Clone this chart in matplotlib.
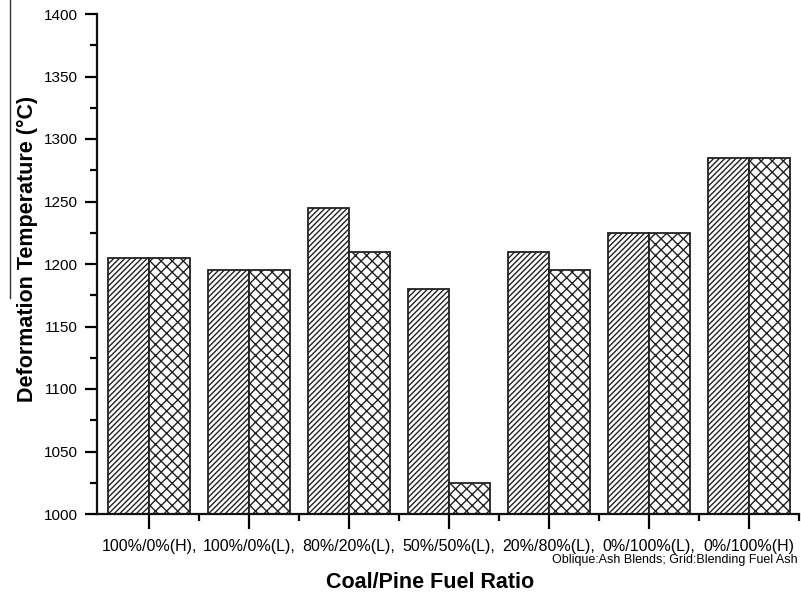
import matplotlib
matplotlib.use("Agg")
import matplotlib.pyplot as plt
from matplotlib.lines import Line2D
from matplotlib.ticker import MultipleLocator, FixedLocator
import numpy as np

plt.rcParams['font.family'] = ['Liberation Sans', 'DejaVu Sans']
plt.rcParams['hatch.linewidth'] = 1.0
plt.rcParams['hatch.color'] = '#555555'

categories = ["100%/0%(H),", "100%/0%(L),", "80%/20%(L),", "50%/50%(L),",
              "20%/80%(L),", "0%/100%(L),", "0%/100%(H)"]
ash_blends = [1205, 1195, 1245, 1180, 1210, 1225, 1285]
blending_fuel_ash = [1205, 1195, 1210, 1025, 1195, 1225, 1285]

fig = plt.figure(figsize=(8.01, 5.95), dpi=100)
ax = fig.add_axes([97 / 801, 1 - 514 / 595, 702 / 801, 500 / 595])

x = np.arange(1, len(categories) + 1)
w = 0.41
base = 1000
ax.bar(x - w / 2, np.array(ash_blends) - base, width=w, bottom=base,
       color='white', edgecolor='#222222', linewidth=1.3, hatch='//////')
ax.bar(x + w / 2, np.array(blending_fuel_ash) - base, width=w, bottom=base,
       color='white', edgecolor='#222222', linewidth=1.3, hatch='xxx')

ax.set_xlim(0.48, 7.5)
ax.set_ylim(1000, 1400)
ax.yaxis.set_major_locator(MultipleLocator(50))
ax.yaxis.set_minor_locator(MultipleLocator(25))
ax.set_xticks(x)
ax.set_xticklabels(categories, fontsize=11.5)
ax.xaxis.set_minor_locator(FixedLocator(np.arange(1.5, 7.6, 1.0)))
ax.tick_params(axis='y', labelsize=11)

for s in ['top', 'right']:
    ax.spines[s].set_visible(False)
for s in ['left', 'bottom']:
    ax.spines[s].set_linewidth(1.6)
    ax.spines[s].set_color('#111111')

ax.tick_params(axis='y', which='major', direction='out', length=9, width=1.6, pad=5)
ax.tick_params(axis='y', which='minor', direction='out', length=5, width=1.6)
ax.tick_params(axis='x', which='major', direction='out', length=11, width=1.6, pad=7)
ax.tick_params(axis='x', which='minor', direction='out', length=5, width=1.6)

fig.text(27 / 801, 1 - 249 / 595, "Deformation Temperature (\u00b0C)", rotation=90,
         ha='center', va='center', fontsize=15.5, fontweight='bold')
fig.text(430 / 801, 1 - 583 / 595, "Coal/Pine Fuel Ratio",
         ha='center', va='center', fontsize=15.5, fontweight='bold')
fig.text(798 / 801, 1 - 560 / 595, "Oblique:Ash Blends; Grid:Blending Fuel Ash",
         ha='right', va='center', fontsize=9)

fig.add_artist(Line2D([9.5 / 801, 9.5 / 801], [1.0, 1 - 298 / 595],
                      transform=fig.transFigure, color='#333333', linewidth=1.0))

fig.savefig("out.png", dpi=100)
